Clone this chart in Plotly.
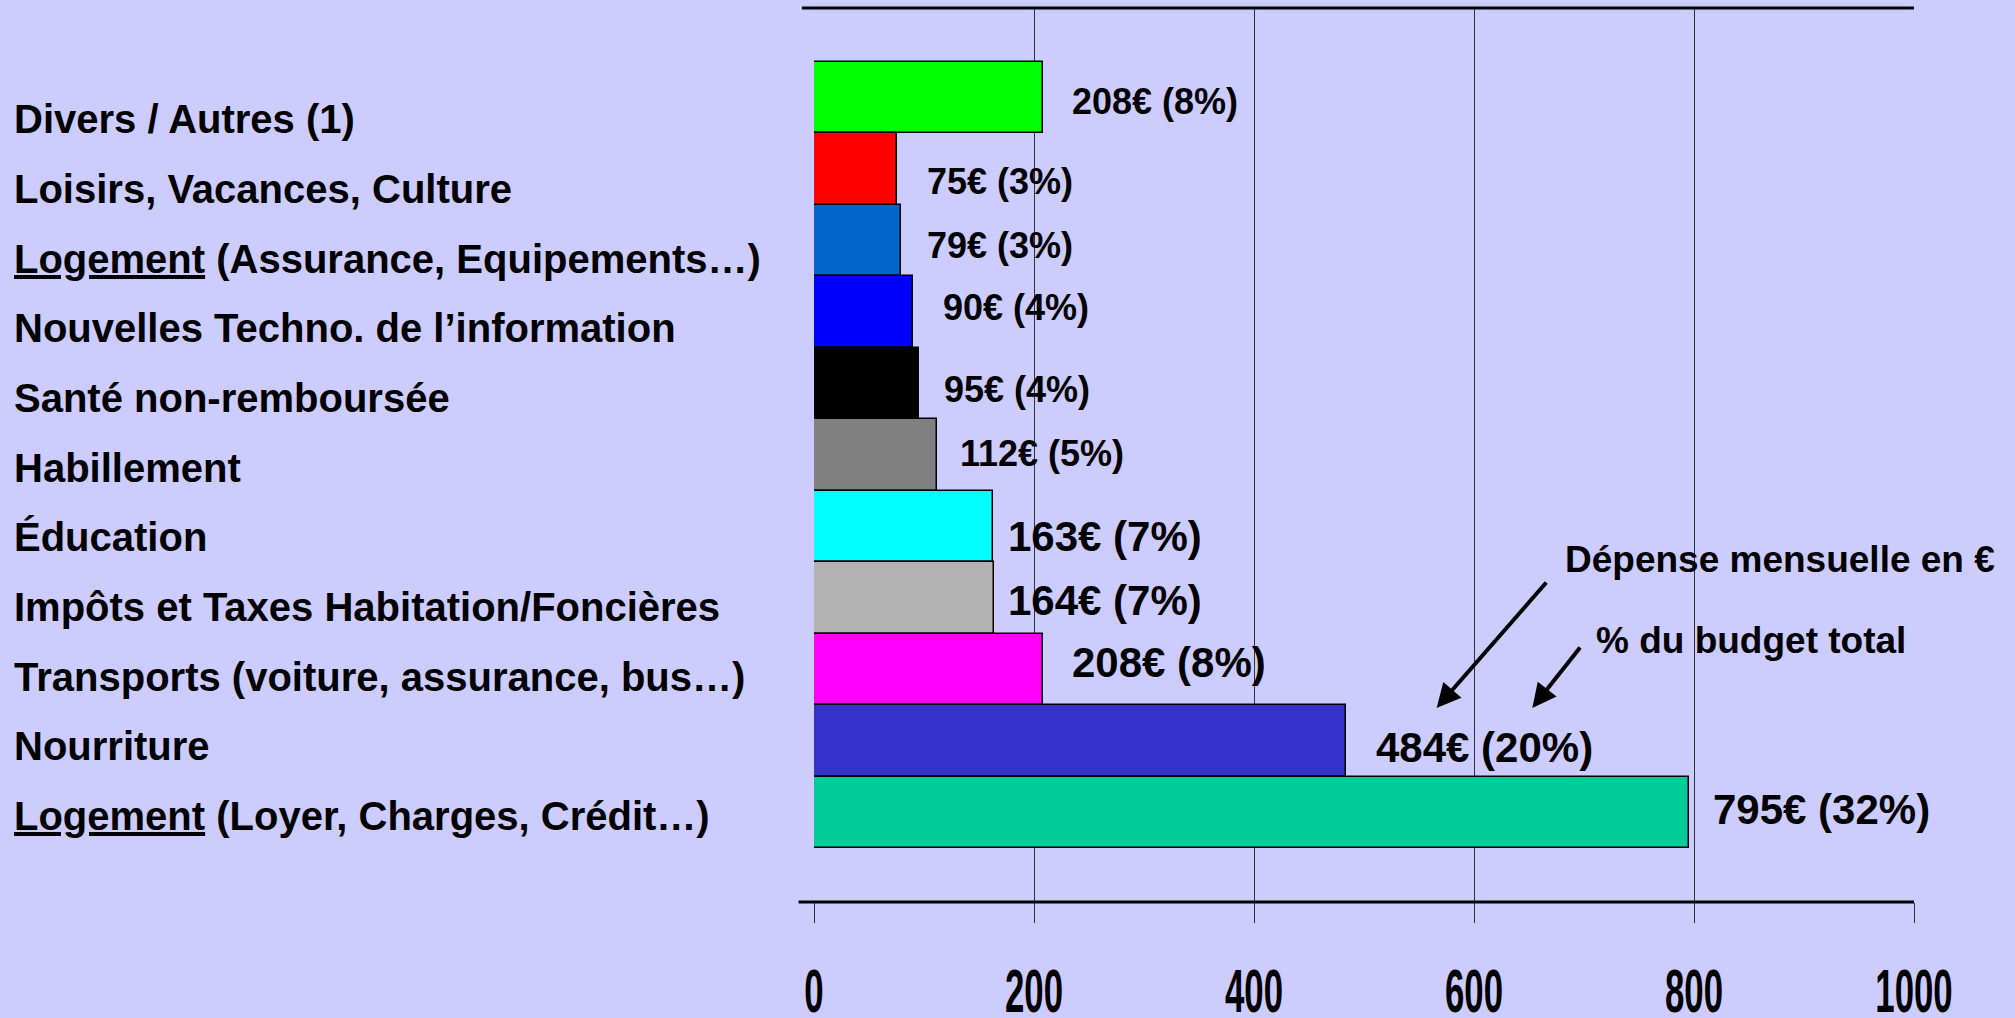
import plotly.graph_objects as go

# monthly budget, top row first
categories = [
    "Divers / Autres (1)",
    "Loisirs, Vacances, Culture",
    "Logement (Assurance, Equipements…)",
    "Nouvelles Techno. de l’information",
    "Santé non-remboursée",
    "Habillement",
    "Éducation",
    "Impôts et Taxes Habitation/Foncières",
    "Transports (voiture, assurance, bus…)",
    "Nourriture",
    "Logement (Loyer, Charges, Crédit…)",
]
amounts = [208, 75, 79, 90, 95, 112, 163, 164, 208, 484, 795]
shares = [8, 3, 3, 4, 4, 5, 7, 7, 8, 20, 32]
x_ticks = [0, 200, 400, 600, 800, 1000]

bar_colors = [
    "#00ff00", "#ff0000", "#0066cc", "#0000ff", "#000000", "#808080",
    "#00ffff", "#b2b2b2", "#ff00ff", "#3333cc", "#00cc99",
]

# value label nudges (px) and sizes, hand placed like the original slide
label_dx = [27, 28, 24, 28, 23, 21, 13, 12, 27, 28, 22]
label_dy = [-4, -13, -5, 4, -6, 2, -10, -2, 7, -6, 3]
label_size = [36, 36, 36, 36, 36, 36, 42, 42, 42, 42, 42]

FONT = "Liberation Sans, Arial, sans-serif"
BG = "#ccccff"
n = len(categories)

fig = go.Figure()
fig.add_trace(
    go.Bar(
        x=amounts,
        y=list(range(n)),
        orientation="h",
        marker={"color": bar_colors, "line": {"color": "#000000", "width": 1.5}},
        hoverinfo="skip",
    )
)

annotations = []
for i, (name, amount, share) in enumerate(zip(categories, amounts, shares)):
    text = name.replace("Logement", "<u>Logement</u>", 1)
    annotations.append(
        dict(
            x=0, xref="paper", xanchor="left", xshift=-802,
            y=i, yref="y2", yanchor="middle",
            text=f"<b>{text}</b>", showarrow=False,
            font={"family": FONT, "size": 40, "color": "#000000"},
        )
    )
    annotations.append(
        dict(
            x=amount, xref="x", xanchor="left", xshift=label_dx[i],
            y=i, yref="y", yanchor="middle", yshift=label_dy[i],
            text=f"<b>{amount}€ ({share}%)</b>", showarrow=False,
            font={"family": FONT, "size": label_size[i], "color": "#000000"},
        )
    )

# notes with arrows pointing at the "484€ (20%)" label
annotations += [
    dict(x=1.0, xref="paper", xanchor="center", xshift=-134,
         y=0.383, yref="paper", yanchor="middle",
         text="<b>Dépense mensuelle en €</b>", showarrow=False,
         font={"family": FONT, "size": 37, "color": "#000000"}),
    dict(x=1.0, xref="paper", xanchor="center", xshift=-163,
         y=0.293, yref="paper", yanchor="middle",
         text="<b>% du budget total</b>", showarrow=False,
         font={"family": FONT, "size": 37, "color": "#000000"}),
    dict(x=0.566, xref="paper", y=0.217, yref="paper", ax=111, ay=-127, text="",
         showarrow=True, arrowhead=2, arrowsize=1.2, arrowwidth=4, arrowcolor="#000000"),
    dict(x=0.653, xref="paper", y=0.217, yref="paper", ax=49, ay=-62, text="",
         showarrow=True, arrowhead=2, arrowsize=1.2, arrowwidth=4, arrowcolor="#000000"),
]

# heavy frame lines at top and bottom, poking a little left of the axis
frame_lines = [
    dict(type="line", xref="paper", yref="paper", x0=-0.011, x1=1.0, y0=1, y1=1,
         line={"color": "#000000", "width": 3}),
    dict(type="line", xref="paper", yref="paper", x0=-0.014, x1=1.0, y0=0, y1=0,
         line={"color": "#000000", "width": 3}),
]

fig.update_layout(
    width=2015,
    height=1018,
    paper_bgcolor=BG,
    plot_bgcolor=BG,
    showlegend=False,
    bargap=0,
    margin={"l": 814, "r": 101, "t": 8, "b": 116},
    annotations=annotations,
    shapes=frame_lines,
    xaxis={
        "range": [0, 1000],
        "tickvals": x_ticks,
        "showgrid": True,
        "gridcolor": "#333333",
        "gridwidth": 1,
        "zeroline": False,
        "showline": False,
        "ticks": "outside",
        "ticklen": 20,
        "tickcolor": "#333333",
        "tickwidth": 1,
        "ticklabelstandoff": 30,
        "tickfont": {"family": FONT, "size": 44, "color": "#000000", "weight": "bold"},
        "automargin": False,
        "fixedrange": True,
    },
    yaxis={
        "range": [n - 1 + 1.25, -1.25],
        "showticklabels": False,
        "showgrid": False,
        "zeroline": False,
        "automargin": False,
        "fixedrange": True,
    },
    yaxis2={
        "overlaying": "y",
        "range": [n - 1 + 1.235, -1.6],
        "visible": False,
        "fixedrange": True,
    },
)

# page fills the window exactly; axis numbers get the tall, narrow look of the slide
post = """
document.body.style.margin = '0';
document.body.style.overflow = 'hidden';
var gd = document.getElementById('{plot_id}');
gd.querySelectorAll('.xtick text').forEach(function (t) {
    var b = t.getBBox();
    var cx = b.x + b.width / 2, cy = b.y + b.height / 2;
    var tr = t.getAttribute('transform') || '';
    t.setAttribute('transform', tr + ' translate(' + cx + ',' + cy + ') scale(0.79,1.4) translate(' + (-cx) + ',' + (-cy) + ')');
});
"""

fig.write_html("out.html", post_script=post, config={"displayModeBar": False})
